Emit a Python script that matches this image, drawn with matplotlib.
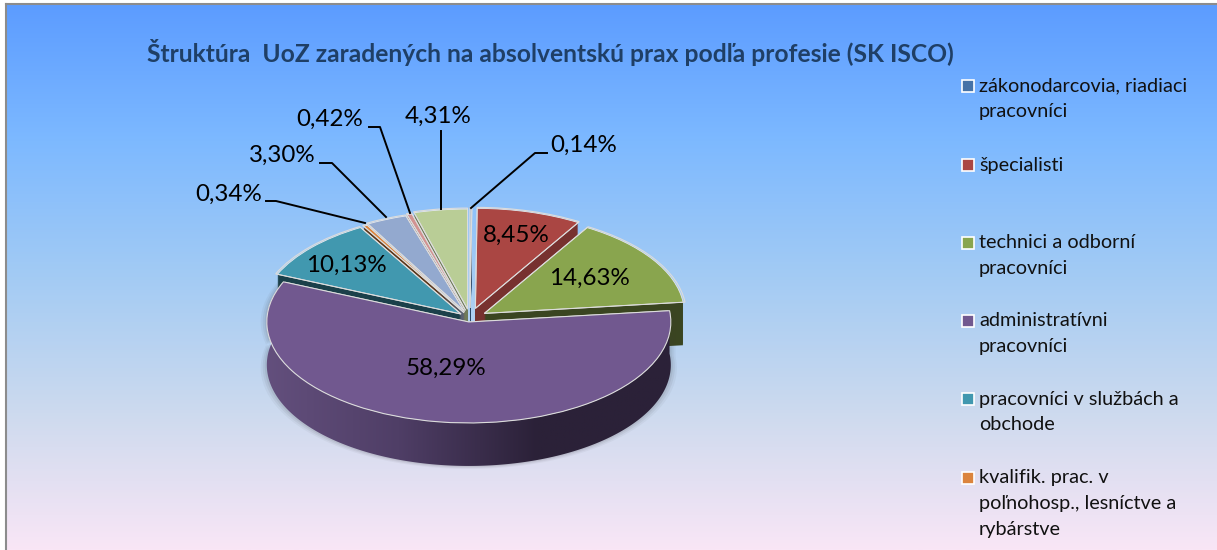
import numpy as np
import matplotlib
matplotlib.use("Agg")
import matplotlib.pyplot as plt
from matplotlib.colors import LinearSegmentedColormap, to_rgb
from matplotlib.patches import Polygon, Rectangle

plt.rcParams['font.family'] = ['Lato', 'DejaVu Sans']

title = "Štruktúra  UoZ zaradených na absolventskú prax podľa profesie (SK ISCO)"
values = [0.14, 8.45, 14.63, 58.29, 10.13, 0.34, 3.30, 0.42, 4.31]
colors = ['#4572A7', '#AA4643', '#89A54E', '#71588F', '#4198AF',
          '#DB843D', '#93A9CF', '#D19392', '#B9CD96']
wall_shade = [0.6, 0.7, 0.42, 0.42, 0.42, 0.42, 0.6, 0.6, 0.6]
explode = [0.10, 0.10, 0.085, 0.04, 0.06, 0.06, 0.07, 0.08, 0.09]
legend_labels = ["zákonodarcovia, riadiaci\npracovníci", "špecialisti",
                 "technici a odborní\npracovníci", "administratívni\npracovníci",
                 "pracovníci v službách a\nobchode",
                 "kvalifik. prac. v\npoľnohosp., lesníctve a\nrybárstve"]

PURPLE = 3
PURPLE_R = 1.01
W, H = 1217, 550
cx, cy, rx, ry, depth = 470, 318, 200, 100, 43

fig = plt.figure(figsize=(W / 100, H / 100), dpi=100, facecolor='white')

# background gradient, with the white margin top and left
bg = fig.add_axes([6 / W, 0, (W - 6) / W, (H - 4) / H])
bg_cmap = LinearSegmentedColormap.from_list('bg', [
    (0.0, '#5C9CFF'), (0.25, '#7DB9FF'), (0.5, '#A3CBF4'),
    (0.75, '#CDDAEE'), (1.0, '#F9E6F6')])
bg.imshow(np.linspace(0, 1, 256).reshape(-1, 1), aspect='auto', cmap=bg_cmap)
bg.set_xticks([])
bg.set_yticks([])
for side in ['top', 'left']:
    bg.spines[side].set_color('#8c8c8c')
    bg.spines[side].set_linewidth(1.5)
for side in ['right', 'bottom']:
    bg.spines[side].set_visible(False)

# pie axes: one x unit = rx pixels, one y unit = ry pixels
ax = fig.add_axes([0, 0, 1, 1], facecolor='none')


def draw_pie(face, edge='none', lw=0, shift=0.0, radius=1.0):
    ax.pie(values, explode=explode, colors=face, startangle=90, counterclock=False,
           center=(0, -shift), radius=radius,
           wedgeprops={'edgecolor': edge, 'linewidth': lw})


def dark(c, f):
    return tuple(v * f for v in to_rgb(c))


# side walls of the small slices, then their tops
walls = [dark(c, f) if i != PURPLE else 'none'
         for i, (c, f) in enumerate(zip(colors, wall_shade))]
tops = [c if i != PURPLE else 'none' for i, c in enumerate(colors)]
only_purple = ['none' if i != PURPLE else colors[i] for i in range(len(values))]

for k in range(depth, 0, -1):
    draw_pie(walls, shift=k / ry)
draw_pie(tops, edge='#e8e8e8', lw=0.6)

# wall of the big slice with its horizontal shading
start = np.deg2rad(sum(values[:PURPLE]) / sum(values) * 360)
end = np.deg2rad(sum(values[:PURPLE + 1]) / sum(values) * 360)
t = np.linspace(start, end, 300)
mid = (start + end) / 2
ox = explode[PURPLE] * np.sin(mid)
oy = explode[PURPLE] * np.cos(mid)
upper = np.column_stack([ox + PURPLE_R * np.sin(t), oy + PURPLE_R * np.cos(t)])
lower = upper[::-1] - [0, depth / ry]

# soft shadow just outside the wall
for grow, alpha in [(0.03, 0.05), (0.02, 0.07), (0.01, 0.09)]:
    ax.add_patch(Polygon(np.vstack([upper * [1 + grow, 1], lower * [1 + grow, 1] - [0, grow]]),
                         closed=True, facecolor='#404040', edgecolor='none',
                         alpha=alpha, zorder=1.5))

wall = Polygon(np.vstack([upper, lower]), closed=True, facecolor='none', edgecolor='none')
ax.add_patch(wall)
wall_cmap = LinearSegmentedColormap.from_list('wall', [
    (0.0, '#64507E'), (0.33, '#4F3E66'), (0.66, '#2B2138'), (1.0, '#2B2138')])
img = ax.imshow(np.linspace(0, 1, 256).reshape(1, -1), cmap=wall_cmap, aspect='auto',
                extent=[-1.05, 1.05, -1.6, 0.4], zorder=2)
img.set_clip_path(wall)

draw_pie(only_purple, edge='#dcdcdc', lw=0.8, radius=PURPLE_R)
for p in ax.patches[-len(values):]:
    p.set_zorder(3)

ax.set_aspect('auto')
ax.set_xlim((0 - cx) / rx, (W - cx) / rx)
ax.set_ylim((cy - H) / ry, cy / ry)

# overlay in pixels for title, labels and legend
ov = fig.add_axes([0, 0, 1, 1], facecolor='none')
ov.set_xlim(0, W)
ov.set_ylim(H, 0)
ov.axis('off')

ov.text(147, 52, title, fontsize=17.72, fontweight='bold', color='#1F3F66',
        ha='left', va='center')

label_pos = [(584, 145), (516, 235), (589, 278), (446, 368), (346, 265),
             (229, 194), (282, 155), (330, 119), (438, 116)]
for v, (x, y) in zip(values, label_pos):
    ov.text(x, y, f"{v:.2f}%".replace('.', ','), fontsize=17.4, color='black',
            ha='center', va='center')

leaders = {0: [(471, 208), (535, 153), (547, 153)],
           5: [(365, 223), (276, 201), (266, 201)],
           6: [(386, 217), (332, 163), (320, 163)],
           7: [(410, 213), (380, 127), (369, 127)],
           8: [(441, 209), (441, 131)]}
for pts in leaders.values():
    ov.plot([p[0] for p in pts], [p[1] for p in pts], color='black', lw=1.4)

legend_y = [86, 165, 243, 321, 399, 478]
for lab, c, y in zip(legend_labels, colors, legend_y):
    ov.add_patch(Rectangle((962, y - 6), 12, 12, facecolor=c, edgecolor='white', lw=1.2))
    ov.text(979, y - 8.5, lab, fontsize=14.3, color='#111111', ha='left', va='top',
            linespacing=1.63)

fig.savefig('out.png', dpi=100)
